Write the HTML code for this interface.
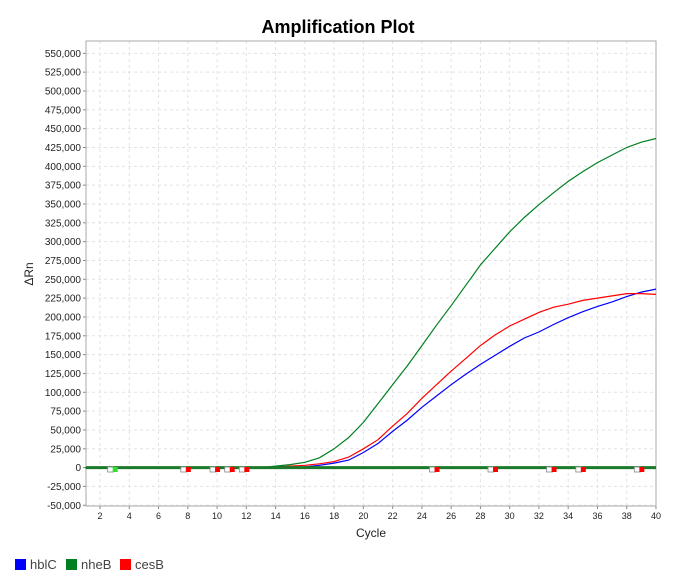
<!DOCTYPE html>
<html><head><meta charset="utf-8"><style>
body{margin:0;background:#fff;width:677px;height:582px;overflow:hidden;font-family:"Liberation Sans",sans-serif}
</style></head><body>
<svg id="s" width="677" height="582" xmlns="http://www.w3.org/2000/svg" font-family="Liberation Sans, sans-serif">
<rect width="677" height="582" fill="#fff"/>
<text x="338" y="33" text-anchor="middle" font-size="18" font-weight="bold">Amplification Plot</text>
<g id="grid"></g>
<rect x="86" y="41" width="570" height="465" fill="none" stroke="#aaa"/>
<g id="lines" fill="none" stroke-width="1.2"></g>
<text x="371" y="537" text-anchor="middle" font-size="12" fill="#222">Cycle</text>
<text transform="translate(33,274) rotate(-90)" text-anchor="middle" font-size="12" fill="#222">ΔRn</text>
<rect x="15" y="559" width="11" height="11" fill="#0000ff"/><text x="30" y="569" font-size="13" fill="#444">hblC</text>
<rect x="66" y="559" width="11" height="11" fill="#008020"/><text x="81" y="569" font-size="13" fill="#444">nheB</text>
<rect x="120" y="559" width="11" height="11" fill="#ff0000"/><text x="135" y="569" font-size="13" fill="#444">cesB</text>
</svg>
<script>
const X=c=>85.4+(c-1)*14.63, Y=v=>467.6-v/25000*18.83;
let g='';
for(let c=2;c<=40;c+=2){g+=`<line x1="${X(c)}" y1="41" x2="${X(c)}" y2="506" stroke="#e2e2e2" stroke-dasharray="3,3"/>`;
g+=`<line x1="${X(c)}" y1="506" x2="${X(c)}" y2="509" stroke="#888"/><text x="${X(c)}" y="519" font-size="9" text-anchor="middle" fill="#222">${c}</text>`;}
for(let v=-50000;v<=550000;v+=25000){const y=Y(v);g+=`<line x1="86" y1="${y}" x2="656" y2="${y}" stroke="#e2e2e2" stroke-dasharray="3,3"/>`;
g+=`<line x1="83" y1="${y}" x2="86" y2="${y}" stroke="#888"/><text x="81" y="${y+3.5}" font-size="10" text-anchor="end" fill="#222">${v.toLocaleString('en-US')}</text>`;}
document.getElementById('grid').innerHTML=g;
const mk=(o)=>{let p=[];for(let c=1;c<=40;c++){p.push(X(c).toFixed(1)+','+Y(o[c]||0).toFixed(1));}return p.join(' ');};
const arr=(start,vals)=>{let o={};vals.forEach((v,i)=>o[start+i]=v*1000);return o;};
const green=arr(14,[2,4,7,13,25,40,60,85,110,135,162,189,215,242,269,291,313,332,349,365,380,393,405,415,425,432,437]);
const red=arr(14,[1,2,3,5,8,14,25,37,55,72,92,110,128,145,162,176,188,197,206,213,217,222,225,228,231,231,230]);
const blue=arr(14,[0,0.5,1,3,6,10,20,32,48,63,80,95,110,124,137,149,161,172,180,190,199,207,214,220,227,233,237]);
let l='';
l+=`<polyline points="${mk(blue)}" stroke="#0000ff"/>`;
l+=`<polyline points="${mk(red)}" stroke="#ff0000"/>`;
l+=`<polyline points="${mk(green)}" stroke="#008020"/>`;
l+=`<line x1="86" y1="467.6" x2="656" y2="467.6" stroke="#1a7a2a" stroke-width="3"/>`;
[[3,'#33dd33'],[8,'#f00'],[10,'#f00'],[11,'#f00'],[12,'#f00'],[25,'#f00'],[29,'#f00'],[33,'#f00'],[35,'#f00'],[39,'#f00']].forEach(([c,col])=>{
 const x=X(c);l+=`<rect x="${x-7}" y="467" width="6" height="5" fill="#fff" stroke="#888" stroke-width="0.8"/><rect x="${x-2}" y="467" width="5" height="5" fill="${col}" stroke="none"/>`;});
document.getElementById('lines').innerHTML=l;
</script>
</body></html>
